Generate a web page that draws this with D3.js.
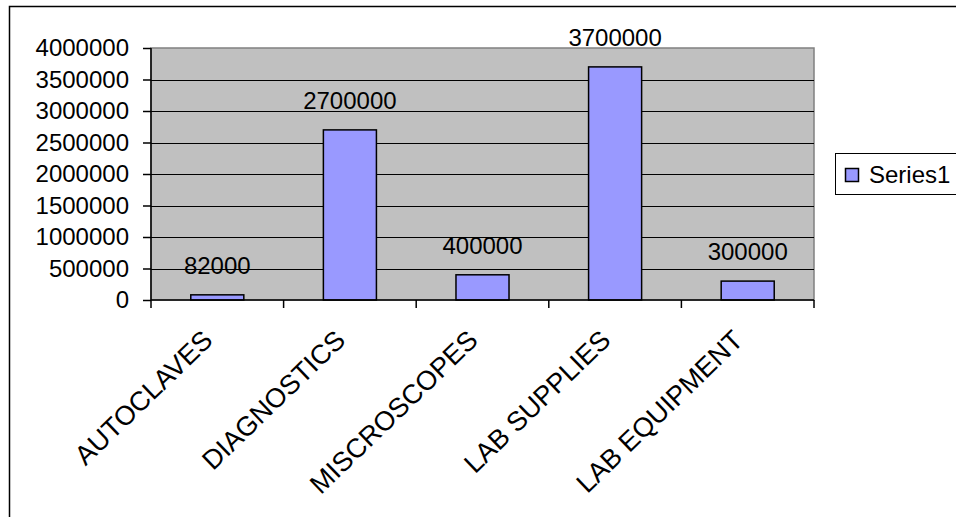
<!DOCTYPE html>
<html>
<head>
<meta charset="utf-8">
<script src="https://cdn.jsdelivr.net/npm/d3@7"></script>
<style>
  body { margin: 0; background: #fff; }
  text { font-family: "Liberation Sans", Arial, sans-serif; fill: #000; }
</style>
</head>
<body>
<svg id="chart" width="956" height="517"></svg>
<script>
var categories = ["AUTOCLAVES", "DIAGNOSTICS", "MISCROSCOPES", "LAB SUPPLIES", "LAB EQUIPMENT"];
var series1 = [82000, 2700000, 400000, 3700000, 300000];
var yTicks = [0, 500000, 1000000, 1500000, 2000000, 2500000, 3000000, 3500000, 4000000];
var seriesName = "Series1";

var margin = {top: 48, left: 151},
    width = 663,
    height = 252;

var svg = d3.select("#chart");

// outer chart border (right and bottom run off the page)
svg.append("rect")
    .attr("x", 9.5)
    .attr("y", 6.5)
    .attr("width", 1000)
    .attr("height", 1000)
    .attr("fill", "#fff")
    .attr("stroke", "#000")
    .attr("stroke-width", 1.5);

var g = svg.append("g")
    .attr("transform", "translate(" + margin.left + "," + margin.top + ")");

var x = d3.scaleBand()
    .domain(categories)
    .range([0, width])
    .paddingInner(0.6)
    .paddingOuter(0.3);

var y = d3.scaleLinear()
    .domain([0, 4000000])
    .range([height, 0]);

// plot area
g.append("rect")
    .attr("width", width)
    .attr("height", height)
    .attr("fill", "#c0c0c0")
    .attr("stroke", "#808080")
    .attr("stroke-width", 1.5);

g.selectAll(".grid")
    .data(yTicks.filter(function(d){ return d > 0 && d < 4000000; }))
  .enter().append("line")
    .attr("class", "grid")
    .attr("x1", 0)
    .attr("x2", width)
    .attr("y1", function(d){ return Math.round(y(d)) + 0.5; })
    .attr("y2", function(d){ return Math.round(y(d)) + 0.5; })
    .attr("stroke", "#000");

// bars
g.selectAll(".bar")
    .data(series1)
  .enter().append("rect")
    .attr("class", "bar")
    .attr("x", function(d, i){ return x(categories[i]); })
    .attr("y", function(d){ return y(d); })
    .attr("width", x.bandwidth())
    .attr("height", function(d){ return height - y(d); })
    .attr("fill", "#9999ff")
    .attr("stroke", "#000")
    .attr("stroke-width", 1.5);

g.selectAll(".value")
    .data(series1)
  .enter().append("text")
    .attr("class", "value")
    .attr("x", function(d, i){ return x(categories[i]) + x.bandwidth() / 2; })
    .attr("y", function(d){ return y(d) - 21; })
    .attr("text-anchor", "middle")
    .style("font-size", "24px")
    .text(function(d){ return d; });

// y axis
var yAxis = d3.axisLeft(y)
    .tickValues(yTicks)
    .tickSize(8)
    .tickPadding(14)
    .tickFormat(function(d){ return d; });

var yg = g.append("g")
    .call(yAxis);
yg.selectAll("text")
    .style("font-size", "24px")
    .style("font-family", "'Liberation Sans', Arial, sans-serif")
    .attr("fill", "#000");
yg.selectAll("line, path").attr("stroke", "#000").attr("stroke-width", 1.5);
yg.select(".domain").attr("d", "M0,0V" + height);

// x axis: ticks on category boundaries
var boundaries = categories.map(function(c){ return x(c) - x.step() * x.paddingInner() / 2; });
boundaries.push(width);

g.append("line")
    .attr("x1", 0)
    .attr("x2", width)
    .attr("y1", height)
    .attr("y2", height)
    .attr("stroke", "#000")
    .attr("stroke-width", 1.5);

g.selectAll(".xtick")
    .data(boundaries)
  .enter().append("line")
    .attr("class", "xtick")
    .attr("x1", function(d){ return d; })
    .attr("x2", function(d){ return d; })
    .attr("y1", height)
    .attr("y2", height + 8)
    .attr("stroke", "#000")
    .attr("stroke-width", 1.5);

g.selectAll(".xlabel")
    .data(categories)
  .enter().append("text")
    .attr("class", "xlabel")
    .attr("text-anchor", "end")
    .attr("transform", function(d){
      return "translate(" + (x(d) + x.bandwidth() / 2 - 3) + "," + (height + 42) + ") rotate(-44)";
    })
    .style("font-size", "27px")
    .text(function(d){ return d; });

// legend
var legend = svg.append("g")
    .attr("transform", "translate(835,153)");

legend.append("rect")
    .attr("x", 0.5)
    .attr("y", 0.5)
    .attr("width", 200)
    .attr("height", 41)
    .attr("fill", "#fff")
    .attr("stroke", "#000");

legend.append("rect")
    .attr("x", 10.5)
    .attr("y", 15.5)
    .attr("width", 13)
    .attr("height", 13)
    .attr("fill", "#9999ff")
    .attr("stroke", "#000")
    .attr("stroke-width", 1.5);

legend.append("text")
    .attr("x", 34)
    .attr("y", 30)
    .style("font-size", "24px")
    .text(seriesName);
</script>
</body>
</html>
